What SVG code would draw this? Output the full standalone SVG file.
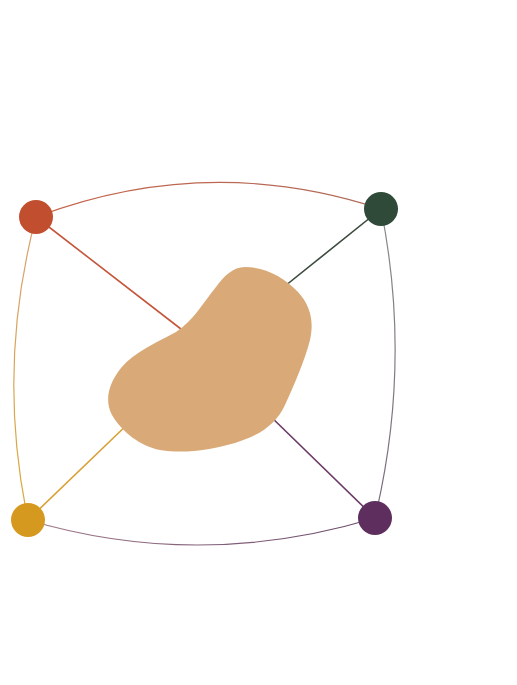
<svg xmlns="http://www.w3.org/2000/svg" width="517" height="685" viewBox="0 0 517 685">
<defs>
<linearGradient id="gTop" gradientUnits="userSpaceOnUse" x1="36" y1="200" x2="381" y2="200"><stop offset="0" stop-color="#C7654A"/><stop offset="1" stop-color="#B06A5A"/></linearGradient>
<linearGradient id="gLeft" gradientUnits="userSpaceOnUse" x1="0" y1="217" x2="0" y2="520"><stop offset="0" stop-color="#D9A070"/><stop offset="1" stop-color="#D9A83A"/></linearGradient>
<linearGradient id="gRight" gradientUnits="userSpaceOnUse" x1="0" y1="209" x2="0" y2="518"><stop offset="0" stop-color="#8A8A8A"/><stop offset="1" stop-color="#7A6A7A"/></linearGradient>
<linearGradient id="gBottom" gradientUnits="userSpaceOnUse" x1="28" y1="0" x2="375" y2="0"><stop offset="0" stop-color="#A07A8A"/><stop offset="1" stop-color="#6A4A6A"/></linearGradient>
</defs>
<style>
.arc{fill:none;stroke-width:1.2}
.spoke{fill:none;stroke-width:1.6}
</style>
<rect width="517" height="685" fill="#ffffff"/>
<g id="connectors">
<path class="arc" d="M36,217 Q208,152 381,209" stroke="url(#gTop)"/>
<path class="arc" d="M36,217 Q-4,368 28,520" stroke="url(#gLeft)"/>
<path class="arc" d="M381,209 Q412,363 375,518" stroke="url(#gRight)"/>
<path class="arc" d="M28,520 Q200,571 375,518" stroke="url(#gBottom)"/>
<line class="spoke" x1="36" y1="217" x2="190" y2="336" stroke="#C4563A"/>
<line class="spoke" x1="381" y1="209" x2="280" y2="290" stroke="#3A4A3C"/>
<line class="spoke" x1="28" y1="520" x2="132" y2="420" stroke="#D9A035"/>
<line class="spoke" x1="375" y1="518" x2="266" y2="412" stroke="#6A3A66"/>
</g>
<g id="core">
<path d="M245,267 C265,267 284,277 298,292 C311,306 314,322 310,340 C305,360 294,385 285,405 C276,425 258,436 235,443 C210,450 185,454 160,450 C140,446 122,432 112,415 C104,400 109,383 121,368 C134,352 158,342 176,332 C193,321 203,303 216,287 C224,276 233,267 245,267 Z" fill="#D9AA78"/>
</g>
<g id="node-red"><circle cx="36" cy="217" r="17" fill="#C14E2E"/></g>
<g id="node-green"><circle cx="381" cy="209" r="17" fill="#2F4A38"/></g>
<g id="node-gold"><circle cx="28" cy="520" r="17" fill="#D6991F"/></g>
<g id="node-purple"><circle cx="375" cy="518" r="17" fill="#5E2F5E"/></g>
</svg>
